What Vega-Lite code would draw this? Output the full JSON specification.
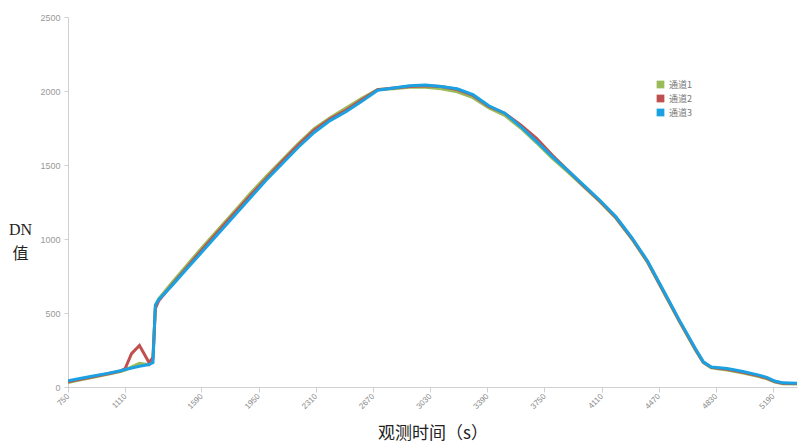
{
  "$schema": "https://vega.github.io/schema/vega-lite/v6.json",
  "autosize": "none",
  "width": 729,
  "height": 370,
  "padding": {"left": 68, "top": 17, "right": 1, "bottom": 58},
  "background": "white",
  "config": {"view": {"stroke": null}},
  "datasets": {
    "blue": [
      {"t": 750, "v": 42}, {"t": 800, "v": 52}, {"t": 900, "v": 72}, {"t": 1000, "v": 92}, {"t": 1080, "v": 110},
      {"t": 1110, "v": 118}, {"t": 1200, "v": 140}, {"t": 1260, "v": 152}, {"t": 1285, "v": 165}, {"t": 1300, "v": 555},
      {"t": 1320, "v": 590}, {"t": 1400, "v": 680}, {"t": 1500, "v": 800}, {"t": 1600, "v": 920}, {"t": 1700, "v": 1040},
      {"t": 1800, "v": 1160}, {"t": 1900, "v": 1280}, {"t": 2000, "v": 1400}, {"t": 2100, "v": 1510}, {"t": 2200, "v": 1620},
      {"t": 2300, "v": 1720}, {"t": 2400, "v": 1800}, {"t": 2500, "v": 1860}, {"t": 2600, "v": 1930}, {"t": 2700, "v": 2005},
      {"t": 2800, "v": 2020}, {"t": 2900, "v": 2035}, {"t": 3000, "v": 2040}, {"t": 3100, "v": 2030}, {"t": 3200, "v": 2015},
      {"t": 3300, "v": 1975}, {"t": 3400, "v": 1900}, {"t": 3500, "v": 1850}, {"t": 3600, "v": 1760}, {"t": 3700, "v": 1660},
      {"t": 3800, "v": 1555}, {"t": 3900, "v": 1460}, {"t": 4000, "v": 1360}, {"t": 4100, "v": 1260}, {"t": 4200, "v": 1150},
      {"t": 4300, "v": 1010}, {"t": 4400, "v": 850}, {"t": 4500, "v": 650}, {"t": 4600, "v": 450}, {"t": 4700, "v": 260},
      {"t": 4750, "v": 170}, {"t": 4800, "v": 135}, {"t": 4850, "v": 130}, {"t": 4900, "v": 125}, {"t": 5000, "v": 105},
      {"t": 5100, "v": 80}, {"t": 5150, "v": 65}, {"t": 5200, "v": 40}, {"t": 5250, "v": 28}, {"t": 5340, "v": 25}
    ],
    "green": [
      {"t": 750, "v": 30}, {"t": 800, "v": 42}, {"t": 900, "v": 64}, {"t": 1000, "v": 86}, {"t": 1080, "v": 105},
      {"t": 1110, "v": 115}, {"t": 1200, "v": 160}, {"t": 1260, "v": 150}, {"t": 1285, "v": 190}, {"t": 1300, "v": 540},
      {"t": 1320, "v": 595}, {"t": 1400, "v": 700}, {"t": 1500, "v": 825}, {"t": 1600, "v": 950}, {"t": 1700, "v": 1070},
      {"t": 1800, "v": 1190}, {"t": 1900, "v": 1310}, {"t": 2000, "v": 1425}, {"t": 2100, "v": 1535}, {"t": 2200, "v": 1645},
      {"t": 2300, "v": 1745}, {"t": 2400, "v": 1820}, {"t": 2500, "v": 1885}, {"t": 2600, "v": 1950}, {"t": 2700, "v": 2010},
      {"t": 2800, "v": 2015}, {"t": 2900, "v": 2025}, {"t": 3000, "v": 2025}, {"t": 3100, "v": 2015}, {"t": 3200, "v": 1995},
      {"t": 3300, "v": 1955}, {"t": 3400, "v": 1885}, {"t": 3500, "v": 1835}, {"t": 3600, "v": 1750}, {"t": 3700, "v": 1650},
      {"t": 3800, "v": 1545}, {"t": 3900, "v": 1450}, {"t": 4000, "v": 1350}, {"t": 4100, "v": 1250}, {"t": 4200, "v": 1140},
      {"t": 4300, "v": 1000}, {"t": 4400, "v": 840}, {"t": 4500, "v": 640}, {"t": 4600, "v": 440}, {"t": 4700, "v": 250},
      {"t": 4750, "v": 165}, {"t": 4800, "v": 130}, {"t": 4850, "v": 122}, {"t": 4900, "v": 115}, {"t": 5000, "v": 95},
      {"t": 5100, "v": 70}, {"t": 5150, "v": 55}, {"t": 5200, "v": 33}, {"t": 5250, "v": 22}, {"t": 5340, "v": 20}
    ],
    "red": [
      {"t": 750, "v": 36}, {"t": 800, "v": 47}, {"t": 900, "v": 68}, {"t": 1000, "v": 89}, {"t": 1080, "v": 108},
      {"t": 1110, "v": 125}, {"t": 1150, "v": 225}, {"t": 1200, "v": 280}, {"t": 1260, "v": 165}, {"t": 1285, "v": 200},
      {"t": 1300, "v": 530}, {"t": 1320, "v": 580}, {"t": 1400, "v": 685}, {"t": 1500, "v": 810}, {"t": 1600, "v": 935},
      {"t": 1700, "v": 1055}, {"t": 1800, "v": 1175}, {"t": 1900, "v": 1295}, {"t": 2000, "v": 1410}, {"t": 2100, "v": 1525},
      {"t": 2200, "v": 1635}, {"t": 2300, "v": 1735}, {"t": 2400, "v": 1810}, {"t": 2500, "v": 1870}, {"t": 2600, "v": 1940},
      {"t": 2700, "v": 2008}, {"t": 2800, "v": 2020}, {"t": 2900, "v": 2030}, {"t": 3000, "v": 2035}, {"t": 3100, "v": 2030},
      {"t": 3200, "v": 2010}, {"t": 3300, "v": 1970}, {"t": 3400, "v": 1895}, {"t": 3500, "v": 1850}, {"t": 3600, "v": 1770},
      {"t": 3700, "v": 1680}, {"t": 3800, "v": 1565}, {"t": 3900, "v": 1460}, {"t": 4000, "v": 1355}, {"t": 4100, "v": 1255},
      {"t": 4200, "v": 1145}, {"t": 4300, "v": 1005}, {"t": 4400, "v": 845}, {"t": 4500, "v": 645}, {"t": 4600, "v": 445},
      {"t": 4700, "v": 255}, {"t": 4750, "v": 168}, {"t": 4800, "v": 133}, {"t": 4850, "v": 127}, {"t": 4900, "v": 120},
      {"t": 5000, "v": 100}, {"t": 5100, "v": 75}, {"t": 5150, "v": 60}, {"t": 5200, "v": 37}, {"t": 5250, "v": 25}, {"t": 5340, "v": 23}
    ]
  },
  "layer": [
    {
      "data": {"name": "green"},
      "mark": {"type": "line", "strokeWidth": 3, "color": "#9BBB59", "clip": true},
      "encoding": {
        "x": {"field": "t", "type": "quantitative", "scale": {"domain": [750, 5340], "nice": false, "zero": false},
          "axis": {"values": [750, 1110, 1590, 1950, 2310, 2670, 3030, 3390, 3750, 4110, 4470, 4830, 5190], "format": "d",
            "title": "观测时间（s）", "titleFont": "Noto Sans CJK SC", "titleFontSize": 17, "titleFontWeight": "normal", "titleColor": "#222",
            "titleY": 46, "titleBaseline": "middle",
            "labelAngle": -45, "labelAlign": "right", "labelBaseline": "middle", "labelPadding": 3,
            "labelFontSize": 8, "labelColor": "#888", "labelFont": "Liberation Sans",
            "domainColor": "#d0d0d0", "tickColor": "#d0d0d0", "tickSize": 5, "grid": false}},
        "y": {"field": "v", "type": "quantitative", "scale": {"domain": [0, 2500], "nice": false},
          "axis": {"values": [0, 500, 1000, 1500, 2000, 2500], "format": "d",
            "title": ["DN", "值"], "titleAngle": 0, "titleFont": "Liberation Serif, Noto Sans CJK SC", "titleFontSize": 16,
            "titleFontWeight": "normal", "titleColor": "#222", "titleAlign": "center", "titleBaseline": "middle",
            "titleX": -48, "titleY": 212, "titleLineHeight": 24,
            "labelFontSize": 9, "labelColor": "#999", "labelFont": "Liberation Sans", "labelPadding": 4,
            "domainColor": "#d0d0d0", "tickColor": "#d0d0d0", "tickSize": 4, "grid": false}}
      }
    },
    {
      "data": {"name": "red"},
      "mark": {"type": "line", "strokeWidth": 3, "color": "#C0504D", "clip": true},
      "encoding": {
        "x": {"field": "t", "type": "quantitative"},
        "y": {"field": "v", "type": "quantitative"}
      }
    },
    {
      "data": {"name": "blue"},
      "mark": {"type": "line", "strokeWidth": 3, "color": "#1BA1E2", "clip": true},
      "encoding": {
        "x": {"field": "t", "type": "quantitative"},
        "y": {"field": "v", "type": "quantitative"}
      }
    },
    {
      "data": {"values": [{"ch": "通道1"}, {"ch": "通道2"}, {"ch": "通道3"}]},
      "mark": {"type": "square", "opacity": 0, "filled": true},
      "encoding": {
        "color": {"field": "ch", "type": "nominal",
          "scale": {"domain": ["通道1", "通道2", "通道3"], "range": ["#9BBB59", "#C0504D", "#1BA1E2"]},
          "legend": {"title": null, "orient": "none", "legendX": 588, "legendY": 63, "symbolType": "square",
            "symbolSize": 60, "symbolOpacity": 1, "symbolStrokeWidth": 0, "labelFont": "Noto Sans CJK SC", "labelFontSize": 9,
            "labelColor": "#777", "rowPadding": 4, "labelOffset": 4}}
      }
    }
  ]
}
